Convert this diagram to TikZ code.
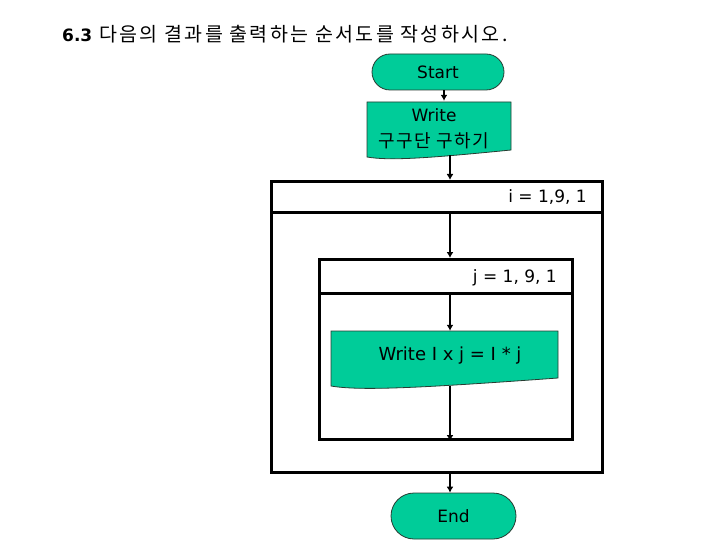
\documentclass[tikz,border=0pt]{standalone}
\usepackage{fontspec}
\setmainfont{DejaVu Sans}
\newfontfamily\kr{Noto Sans CJK KR}
\newfontfamily\krwide[LetterSpace=12]{Noto Sans CJK KR}
\newfontfamily\krmid[LetterSpace=8]{Noto Sans CJK KR}
\usetikzlibrary{arrows.meta,shapes.misc}
\definecolor{flowgreen}{RGB}{0,204,153}
\definecolor{edgegray}{RGB}{40,60,50}
\begin{document}
\begin{tikzpicture}[x=1pt,y=-1pt,
  term/.style={rounded rectangle, draw=edgegray, line width=0.8pt, fill=flowgreen, inner sep=0pt, font=\fontsize{17}{20}\selectfont},
  doctext/.style={inner sep=0pt, align=center},
  docfill/.style={fill=flowgreen, draw=edgegray, line width=0.8pt},
  loopbox/.style={draw=black, line width=3pt, inner sep=0pt, anchor=north west},
  hdrtext/.style={inner sep=0pt, anchor=base east, font=\fontsize{17}{20}\selectfont},
  flow/.style={draw=black, line width=2pt, -{Latex[length=6pt,width=7pt]}}
]
\useasboundingbox (0,0) rectangle (720,540);

% title
\node[inner sep=0pt, anchor=base west] (title) at (62,42)
  {{\fontsize{17}{20}\selectfont\bfseries 6.3}\hspace{7pt}{\krwide\fontsize{19.5}{22}\selectfont 다음의 결과를 출력하는 순서도를 작성하시오.}};

% start
\node[term, minimum width=132pt, minimum height=36pt] (st) at (438,72) {Start};

% write box 1
\path[docfill] (367,102) -- (511,102) -- (511,150)
  .. controls (430,158) and (390,161) .. (367,157) -- cycle;
\node[doctext, minimum width=144pt, minimum height=56pt, font=\fontsize{17}{25}\selectfont] (wr) at (434,129)
  {Write\\[1pt]{\krmid\fontsize{18}{25}\selectfont 구구단 구하기}};
\coordinate (wrb) at (450,155.5);

% outer loop
\node[loopbox, minimum width=331pt, minimum height=291pt] (outer) at (270,180) {};
\node[loopbox, minimum width=331pt, minimum height=31pt] (ohead) at (270,180) {};
\node[hdrtext] (il) at (587,203) {i = 1,9, 1};

% inner loop
\node[loopbox, minimum width=253pt, minimum height=180pt] (inner) at (318,258) {};
\node[loopbox, minimum width=253pt, minimum height=34pt] (ihead) at (318,258) {};
\node[hdrtext] (jl) at (557,282) {j = 1, 9, 1};

% write box 2
\path[docfill] (331,331) -- (558,331) -- (558,378)
  .. controls (420,388) and (360,391) .. (331,386) -- cycle;
\node[doctext, minimum width=227pt, minimum height=50pt, font=\fontsize{18}{22}\selectfont] (wj) at (444.5,356)
  {\hspace*{11pt}Write I x j = I * j};
\coordinate (wjb) at (450,385.5);

% end
\node[term, minimum width=125pt, minimum height=46pt] (en) at (453.5,516) {End};

% connectors
\coordinate (a1) at (444,0);
\coordinate (ax) at (450,0);
\draw[flow] (st.south -| a1) -- (wr.north -| a1);
\draw[flow] (wrb) -- (outer.north -| ax);
\draw[flow] (ohead.south -| ax) -- (inner.north -| ax);
\draw[flow] (ihead.south -| ax) -- (wj.north -| ax);
\draw[flow] (wjb) -- (inner.south -| ax);
\draw[flow] (outer.south -| ax) -- (en.north -| ax);
\end{tikzpicture}
\end{document}
